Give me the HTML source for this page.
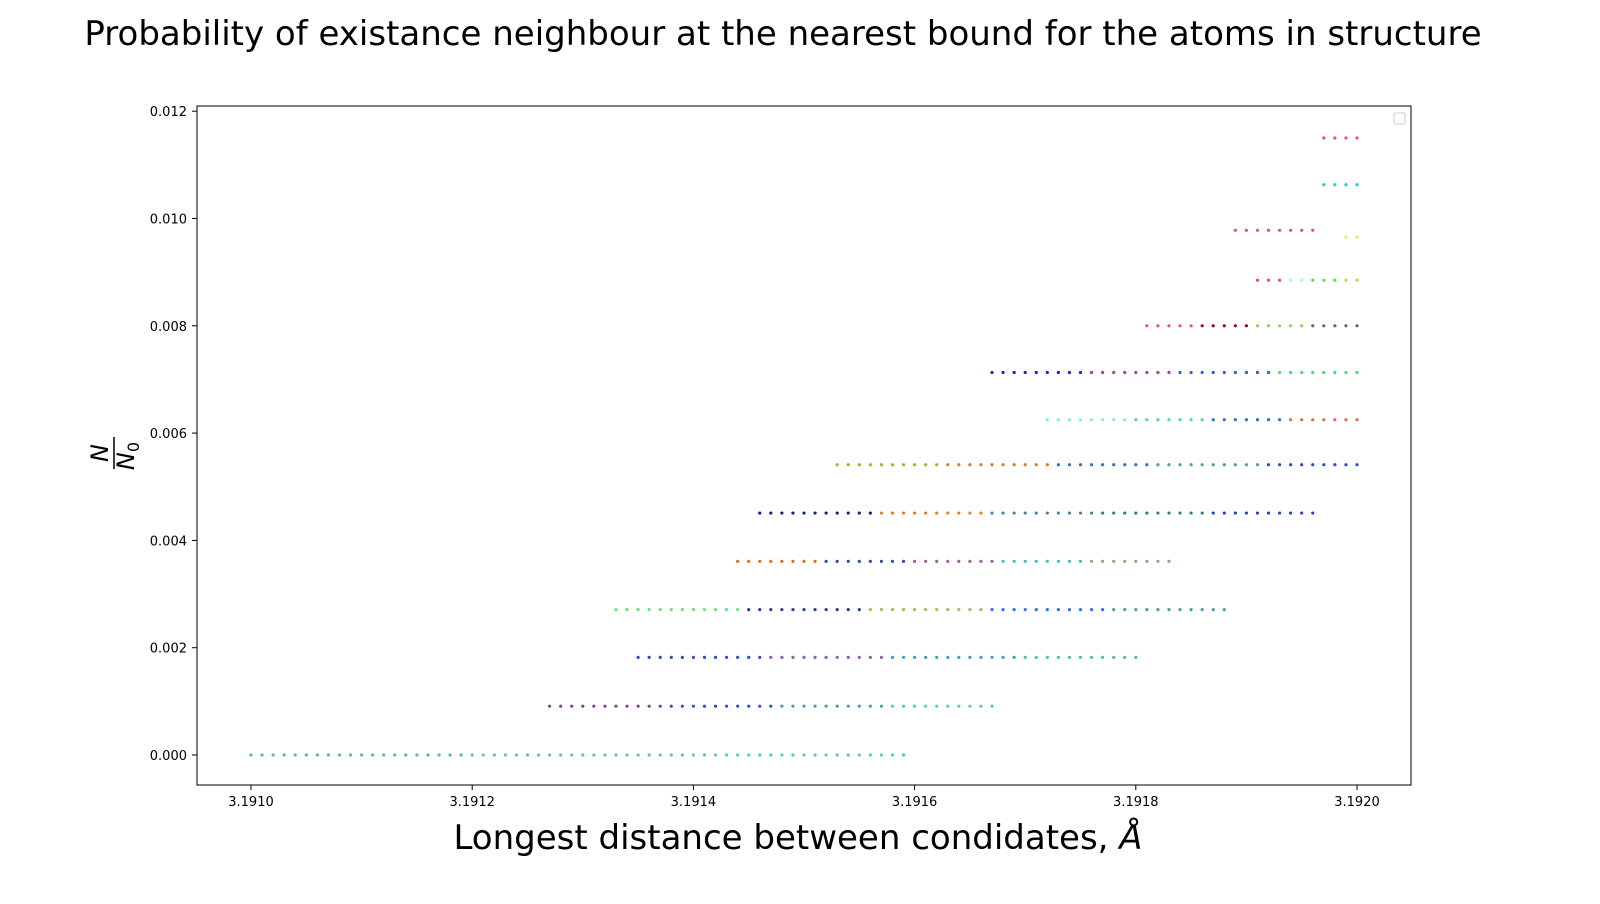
<!DOCTYPE html>
<html><head><meta charset="utf-8"><style>
body{margin:0;background:#fff;font-family:"DejaVu Sans","Liberation Sans",sans-serif}
</style></head><body>
<svg id="c" width="1600" height="900" xmlns="http://www.w3.org/2000/svg" font-family="DejaVu Sans, Liberation Sans, sans-serif">
<text x="783" y="45" font-size="34" text-anchor="middle">Probability of existance neighbour at the nearest bound for the atoms in structure</text>
<rect x="197" y="106" width="1214" height="679" fill="none" stroke="#000" stroke-width="1"/>
<g id="marks"></g>
<g id="xt"></g>
<g id="yt"></g>
<text x="798" y="849" font-size="34" text-anchor="middle">Longest distance between condidates, <tspan font-style="italic">Å</tspan></text>
<g transform="translate(112,453) rotate(-90)">
<text x="0" y="-4" font-size="24" font-style="italic" text-anchor="middle">N</text>
<line x1="-16" y1="2" x2="16" y2="2" stroke="#000" stroke-width="1.5"/>
<text x="-3" y="22" font-size="24" font-style="italic" text-anchor="middle">N<tspan font-size="16" dy="5" font-style="normal">0</tspan></text>
</g>
<rect x="1394" y="113" width="11" height="11" rx="2" fill="#fff" stroke="#ccc"/>
</svg>
<script>
const rowY=[0.0,0.00091,0.00182,0.00271,0.00361,0.00451,0.00541,0.00625,0.00713,0.00800,0.00885,0.00978,0.00965,0.01063,0.01150];
const rowStart=[3.19100,3.19127,3.19135,3.19133,3.19144,3.19146,3.19153,3.19172,3.19167,3.19181,3.19191,3.19189,3.19199,3.19197,3.19197];
const rowEnd=[3.19159,3.19167,3.19180,3.19188,3.19183,3.19196,3.19200,3.19200,3.19200,3.19200,3.19200,3.19196,3.19200,3.19200,3.19200];
const rowColors=[["#5fb8a0","#66c2a5","#4fd0b0"],["#8040a0","#3050d0","#40a0b0","#50d0b0"],["#3050c0","#9060b0","#40a0c0","#50c0a0"],["#70e080","#304090","#a0c060","#3070ff","#50a0a0"],["#e07020","#3050a0","#a060a0","#40c0c0","#a0a080"],["#102080","#e08020","#5080a0","#308070","#2040c0"],["#90c020","#d08030","#4070b0","#50a0a0","#3050c0"],["#80f0e0","#40e0a0","#3070d0","#e07050"],["#2020d0","#a040a0","#3060c0","#40e080"],["#e05080","#a00030","#80e040","#606080"],["#e05080","#a0ffc0","#60e040","#d0d040"],["#e05080"],["#e0f060"],["#20d0c0"],["#e05080"]];
const xTicks=[3.1910,3.1912,3.1914,3.1916,3.1918,3.1920];
const yTicks=[0,0.002,0.004,0.006,0.008,0.010,0.012];
const STEP=0.00001;
const X=v=>251+(v-3.1910)/0.0001*110.6;
const Y=v=>755-v/0.002*107.3;
const NS='http://www.w3.org/2000/svg';
const m=document.getElementById('marks');
rowY.forEach((y,i)=>{
  const n=Math.round((rowEnd[i]-rowStart[i])/STEP);
  for(let k=0;k<=n;k++){
    const c=document.createElementNS(NS,'circle');
    c.setAttribute('cx',X(rowStart[i]+k*STEP));
    c.setAttribute('cy',Y(y));
    c.setAttribute('r',1.6);
    const cols=rowColors[i];
    c.setAttribute('fill',cols[Math.floor(k*cols.length/(n+1))]);
    
    
    m.appendChild(c);
  }
});
const xt=document.getElementById('xt');
xTicks.forEach(t=>{
  const l=document.createElementNS(NS,'line');
  l.setAttribute('x1',X(t));l.setAttribute('x2',X(t));l.setAttribute('y1',785);l.setAttribute('y2',790);l.setAttribute('stroke','#000');
  
  
  xt.appendChild(l);
  const s=document.createElementNS(NS,'text');
  s.setAttribute('x',X(t));s.setAttribute('y',806);s.setAttribute('font-size','13');s.setAttribute('text-anchor','middle');
  s.textContent=t.toFixed(4);
  
  
  xt.appendChild(s);
});
const yt=document.getElementById('yt');
yTicks.forEach(t=>{
  const l=document.createElementNS(NS,'line');
  l.setAttribute('x1',192);l.setAttribute('x2',197);l.setAttribute('y1',Y(t));l.setAttribute('y2',Y(t));l.setAttribute('stroke','#000');
  
  
  yt.appendChild(l);
  const s=document.createElementNS(NS,'text');
  s.setAttribute('x',187);s.setAttribute('y',Y(t)+5);s.setAttribute('font-size','13');s.setAttribute('text-anchor','end');
  s.textContent=t.toFixed(3);
  
  
  yt.appendChild(s);
});
</script>
</body></html>
